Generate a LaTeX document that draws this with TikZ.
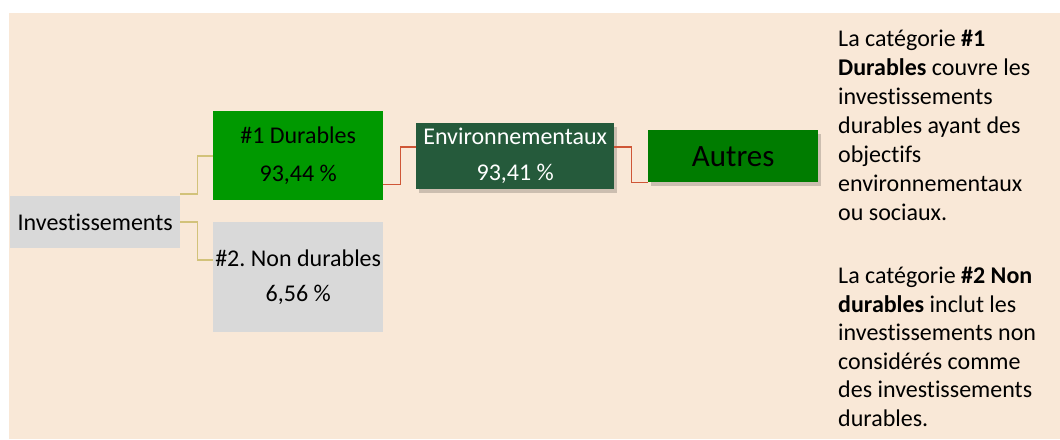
\documentclass[tikz,border=0pt]{standalone}
\usepackage{fontspec}
\setmainfont{Carlito}[Ligatures=NoCommon]
\usetikzlibrary{shadows,calc}
\definecolor{bgbeige}{HTML}{F9E8D7}
\definecolor{boxgray}{HTML}{D9D9D9}
\definecolor{greenA}{HTML}{009900}
\definecolor{greenDark}{HTML}{255A3B}
\definecolor{greenB}{HTML}{007C00}
\definecolor{khakiline}{HTML}{D2C27A}
\definecolor{redline}{HTML}{CF5636}
\frenchspacing
\tikzset{
  box/.style={anchor=north west, inner sep=0pt, align=center, font=\fontsize{24}{36}\selectfont},
  shad/.style={drop shadow={shadow xshift=3pt, shadow yshift=-4pt, fill=black, opacity=0.18}},
  conn1/.style={draw=khakiline, line width=1.8pt},
  conn2/.style={draw=redline, line width=1.8pt},
  txt/.style={anchor=base west, inner sep=0pt, font=\fontsize{24}{29}\selectfont}
}
\begin{document}
\begin{tikzpicture}[x=1pt,y=-1pt]
\useasboundingbox (0,0) rectangle (1060,439);
\fill[bgbeige] (9,13) rectangle (1060,439);

\node[box, fill=boxgray, minimum width=170pt, minimum height=52pt] (inv) at (10,196) {Investissements};
\node[box, fill=greenA, minimum width=170pt, minimum height=89pt, font=\fontsize{24}{38}\selectfont] (d1) at (213,111) {\#1 Durables\\93,44 \%};
\node[box, fill=boxgray, minimum width=170pt, minimum height=110pt, font=\fontsize{24}{35}\selectfont] (d2) at (213,222) {\#2. Non durables\\6,56 \%};
\node[box, shad, fill=greenDark, text=white, minimum width=198pt, minimum height=66pt] (env) at (416,123) {Environnementaux\\93,41 \%};
\node[box, shad, fill=greenB, minimum width=170pt, minimum height=52pt, font=\fontsize{31}{36}\selectfont] (aut) at (648,130) {Autres};

\draw[conn1] ([yshift=2pt]inv.north east) -- ++(17,0) |- (d1.west);
\draw[conn1] (inv.east) -- ++(17,0) |- ([yshift=17pt]d2.west);
\draw[conn2] ([yshift=16pt]d1.south east) -- ++(17,0) |- ([yshift=9pt]env.west);
\draw[conn2] ([yshift=9pt]env.east) -- ++(17,0) |- (aut.south west);

\node[txt] (t1) at (838,46.5) {La catégorie \textbf{\#1}};
\node[txt] (t2) at (838,75.5) {\textbf{Durables} couvre les};
\node[txt] (t3) at (838,104.5) {investissements};
\node[txt] (t4) at (838,133.5) {durables ayant des};
\node[txt] (t5) at (838,162.5) {objectifs};
\node[txt] (t6) at (838,191.5) {environnementaux};
\node[txt] (t7) at (838,220.5) {ou sociaux.};

\node[txt] (u1) at (838,283.5) {La catégorie \textbf{\#2 Non}};
\node[txt] (u2) at (838,312) {\textbf{durables} inclut les};
\node[txt] (u3) at (838,340.5) {investissements non};
\node[txt] (u4) at (838,369) {considérés comme};
\node[txt] (u5) at (838,397.5) {des investissements};
\node[txt] (u6) at (838,426) {durables.};
\end{tikzpicture}
\end{document}
